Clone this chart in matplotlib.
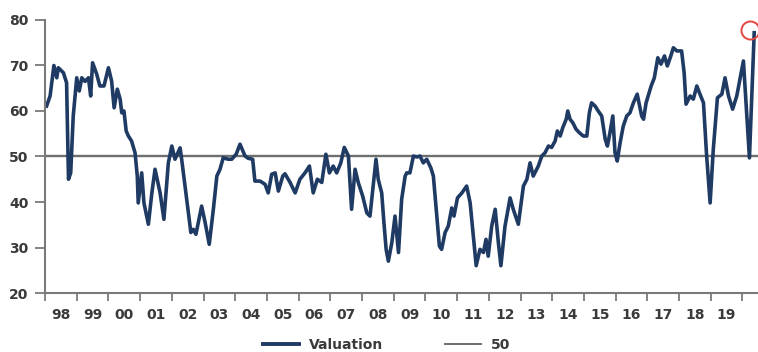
import matplotlib
matplotlib.use("Agg")
import matplotlib.pyplot as plt
from matplotlib.lines import Line2D

# Decimal-year dates and valuation values
dates = [
    1998.05, 1998.16, 1998.28, 1998.37, 1998.42, 1998.58, 1998.68, 1998.74, 1998.81, 1998.89,
    1999.00, 1999.08, 1999.16, 1999.26, 1999.37, 1999.44, 1999.50, 1999.63, 1999.73, 1999.86,
    2000.00, 2000.10, 2000.18, 2000.28, 2000.37, 2000.42, 2000.49, 2000.56, 2000.63, 2000.73,
    2000.84, 2000.91, 2000.94, 2001.05, 2001.12, 2001.26, 2001.37, 2001.47, 2001.63, 2001.75,
    2001.89, 2002.00, 2002.10, 2002.26, 2002.31, 2002.47, 2002.60, 2002.68, 2002.76, 2002.94,
    2003.05, 2003.18, 2003.31, 2003.42, 2003.52, 2003.62, 2003.78, 2003.89, 2004.03, 2004.15,
    2004.31, 2004.41, 2004.55, 2004.62, 2004.78, 2004.94, 2005.04, 2005.15, 2005.26, 2005.36,
    2005.50, 2005.57, 2005.73, 2005.89, 2006.04, 2006.20, 2006.34, 2006.46, 2006.59, 2006.73,
    2006.86, 2006.97, 2007.09, 2007.20, 2007.33, 2007.44, 2007.57, 2007.67, 2007.78, 2007.88,
    2008.02, 2008.15, 2008.25, 2008.44, 2008.51, 2008.62, 2008.69, 2008.76, 2008.83, 2008.94,
    2009.04, 2009.15, 2009.25, 2009.36, 2009.41, 2009.51, 2009.62, 2009.73, 2009.83, 2009.93,
    2010.04, 2010.17, 2010.25, 2010.36, 2010.44, 2010.51, 2010.62, 2010.72, 2010.83, 2010.90,
    2011.01, 2011.15, 2011.30, 2011.41, 2011.53, 2011.60, 2011.72, 2011.83, 2011.91, 2011.98,
    2012.09, 2012.20, 2012.30, 2012.38, 2012.51, 2012.67, 2012.77, 2012.93, 2013.09, 2013.20,
    2013.30, 2013.40, 2013.56, 2013.67, 2013.77, 2013.88, 2013.98, 2014.09, 2014.16, 2014.25,
    2014.33, 2014.44, 2014.49, 2014.56, 2014.65, 2014.75, 2014.86, 2014.98, 2015.09, 2015.17,
    2015.24, 2015.35, 2015.45, 2015.56, 2015.67, 2015.74, 2015.82, 2015.91, 2015.98, 2016.05,
    2016.14, 2016.24, 2016.35, 2016.45, 2016.56, 2016.68, 2016.82, 2016.88, 2016.96, 2017.12,
    2017.22, 2017.33, 2017.43, 2017.54, 2017.63, 2017.74, 2017.82, 2017.93, 2018.08, 2018.16,
    2018.22, 2018.35, 2018.45, 2018.56, 2018.66, 2018.77, 2018.87, 2018.98, 2019.08, 2019.21,
    2019.35, 2019.45, 2019.56, 2019.69, 2019.82, 2020.03, 2020.22, 2020.37,
]
valuation = [
    61.1, 63.3, 70.0, 67.3, 69.5, 68.4, 66.2, 45.0, 46.4, 58.9,
    67.3, 64.4, 67.3, 66.5, 67.3, 63.3, 70.6, 68.1, 65.5, 65.5,
    69.5, 66.6, 60.7, 64.8, 62.6, 59.6, 60.0, 55.6, 54.5, 53.4,
    50.8, 45.7, 39.8, 46.4, 39.8, 35.1, 42.0, 47.2, 42.0, 36.2,
    48.6, 52.3, 49.4, 51.9, 49.4, 40.6, 33.3, 34.0, 32.9, 39.1,
    35.5, 30.7, 38.4, 45.7, 47.2, 49.7, 49.4, 49.4, 50.5, 52.7,
    50.1, 49.6, 49.4, 44.6, 44.6, 43.9, 42.0, 46.1, 46.4, 42.4,
    45.7, 46.2, 44.3, 42.0, 45.0, 46.4, 47.9, 42.0, 45.0, 44.3,
    50.5, 46.4, 47.9, 46.4, 48.6, 52.0, 50.1, 38.4, 47.2, 44.3,
    41.3, 37.6, 36.9, 49.4, 45.0, 42.0, 35.5, 29.6, 27.0, 31.1,
    36.9, 28.9, 40.6, 45.7, 46.4, 46.4, 50.1, 49.9, 50.1, 48.6,
    49.4, 47.5, 45.7, 36.9, 30.3, 29.6, 33.3, 34.7, 38.7, 36.9,
    40.9, 42.0, 43.5, 39.8, 31.1, 26.0, 29.6, 28.9, 31.8, 28.1,
    34.7, 38.4, 31.1, 26.0, 34.7, 40.9, 38.4, 35.1, 43.5, 45.0,
    48.6, 45.7, 47.9, 50.1, 50.8, 52.3, 52.0, 53.4, 55.6, 54.5,
    56.3, 58.2, 60.0, 58.2, 57.4, 56.0, 55.2, 54.5, 54.5, 59.6,
    61.8, 61.1, 60.0, 58.9, 53.8, 52.3, 55.2, 58.9, 50.8, 49.0,
    53.0, 56.7, 58.9, 59.6, 61.8, 63.7, 58.9, 58.2, 61.8, 65.5,
    67.3, 71.7, 70.3, 72.1, 69.9, 72.1, 73.9, 73.2, 73.2, 68.4,
    61.5, 63.3, 62.6, 65.5, 63.7, 61.8, 50.1, 39.8, 51.6, 62.9,
    63.7, 67.3, 63.3, 60.4, 63.3, 71.0, 49.7, 77.2,
]
threshold = 50
year_labels = ["98", "99", "00", "01", "02", "03", "04", "05", "06", "07", "08",
               "09", "10", "11", "12", "13", "14", "15", "16", "17", "18", "19"]
first_year = 1998
y_ticks = [20, 30, 40, 50, 60, 70, 80]
highlight_point = (2020.24, 77.8)

line_color = "#1f3a63"
grey_line = "#6e6e6e"
axis_color = "#7a7a7a"
text_color = "#3a3a3a"

fig = plt.figure(figsize=(7.58, 3.52), dpi=100)
ax = fig.add_axes([0.0594, 0.1676, 0.9406, 0.7756])

ax.axhline(threshold, color=grey_line, lw=1.7, zorder=1)
ax.plot(dates, valuation, color=line_color, lw=2.6, solid_joinstyle="round", zorder=2)
ax.plot([highlight_point[0]], [highlight_point[1]], marker="o", markersize=13,
        markerfacecolor="none", markeredgecolor="#e2463f", markeredgewidth=1.4,
        clip_on=False, zorder=3)

ax.set_xlim(first_year, 2020.49)
ax.set_ylim(20, 80)

# major ticks at year boundaries (no labels), labels centred in each year
major = [first_year + i for i in range(len(year_labels) + 1)]
minor = [first_year + i + 0.5 for i in range(len(year_labels))]
ax.set_xticks(major)
ax.set_xticklabels([""] * len(major))
ax.set_xticks(minor, minor=True)
ax.set_xticklabels(year_labels, minor=True)
ax.tick_params(axis="x", which="major", direction="out", length=6, width=1.3,
               color=axis_color)
ax.tick_params(axis="x", which="minor", length=0, pad=11, labelsize=10,
               labelcolor=text_color)
ax.set_yticks(y_ticks)
ax.tick_params(axis="y", direction="out", length=7, width=1.3, color=axis_color,
               labelsize=10, labelcolor=text_color, pad=5)
for lab in ax.get_xticklabels(minor=True) + ax.get_yticklabels():
    lab.set_fontweight("bold")

for s in ["top", "right"]:
    ax.spines[s].set_visible(False)
for s in ["left", "bottom"]:
    ax.spines[s].set_color(axis_color)
    ax.spines[s].set_linewidth(1.5)

handles = [Line2D([], [], color=line_color, lw=2.8),
           Line2D([], [], color=grey_line, lw=1.4)]
leg = fig.legend(handles, ["Valuation", "50"], loc="lower center", ncol=2,
                 bbox_to_anchor=(0.51, -0.035), frameon=False, fontsize=10,
                 handlelength=2.6, handletextpad=0.7, columnspacing=4.4)
for t in leg.get_texts():
    t.set_color(text_color)
    t.set_fontweight("bold")

fig.savefig("out.png", dpi=100)
